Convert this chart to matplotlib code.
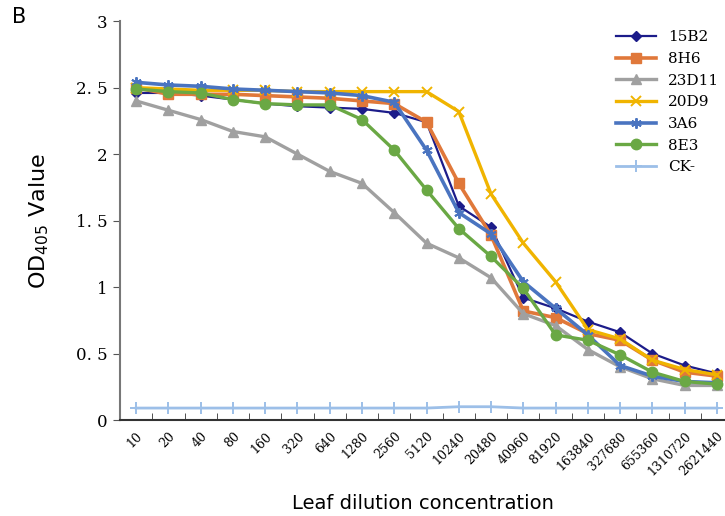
import numpy as np
from matplotlib import pyplot as plt

# dilution categories
dilutions = ["10", "20", "40", "80", "160", "320", "640", "1280", "2560", "5120",
             "10240", "20480", "40960", "81920", "163840", "327680", "655360",
             "1310720", "2621440"]

v_15B2 = [2.46, 2.46, 2.44, 2.41, 2.38, 2.36, 2.35, 2.34, 2.31, 2.24,
          1.61, 1.45, 0.92, 0.84, 0.74, 0.66, 0.50, 0.41, 0.35]
v_8H6 = [2.50, 2.45, 2.45, 2.45, 2.44, 2.43, 2.42, 2.40, 2.38, 2.24,
         1.78, 1.39, 0.82, 0.77, 0.65, 0.60, 0.45, 0.36, 0.33]
v_23D11 = [2.40, 2.33, 2.26, 2.17, 2.13, 2.00, 1.87, 1.78, 1.56, 1.33,
           1.22, 1.07, 0.80, 0.71, 0.53, 0.40, 0.31, 0.26, 0.26]
v_20D9 = [2.50, 2.49, 2.48, 2.48, 2.48, 2.47, 2.47, 2.47, 2.47, 2.47,
          2.32, 1.70, 1.33, 1.04, 0.68, 0.61, 0.45, 0.38, 0.34]
v_3A6 = [2.54, 2.52, 2.51, 2.49, 2.48, 2.47, 2.46, 2.44, 2.39, 2.03,
         1.56, 1.40, 1.04, 0.84, 0.64, 0.41, 0.33, 0.29, 0.28]
v_8E3 = [2.49, 2.47, 2.46, 2.41, 2.38, 2.37, 2.37, 2.26, 2.03, 1.73,
         1.44, 1.23, 0.99, 0.64, 0.60, 0.49, 0.36, 0.29, 0.27]
v_CK = [0.09, 0.09, 0.09, 0.09, 0.09, 0.09, 0.09, 0.09, 0.09, 0.09,
        0.10, 0.10, 0.09, 0.09, 0.09, 0.09, 0.09, 0.09, 0.09]

ytick_vals = [0, 0.5, 1, 1.5, 2, 2.5, 3]
ytick_labels = ["0", "0. 5", "1", "1. 5", "2", "2. 5", "3"]

series = [
    ("15B2", v_15B2, "#1c1c8a", "D", 1.6, 5),
    ("8H6", v_8H6, "#e0783a", "s", 2.6, 7),
    ("23D11", v_23D11, "#a0a0a0", "^", 2.4, 7.5),
    ("20D9", v_20D9, "#f0b400", "x", 2.4, 7.5),
    ("3A6", v_3A6, "#4a74c0", "x", 2.6, 7.5),
    ("8E3", v_8E3, "#6aa844", "o", 2.4, 7.5),
    ("CK-", v_CK, "#9cbfe8", "+", 2.0, 9),
]

fig = plt.figure(figsize=(7.25, 5.16), dpi=100)
ax = fig.add_axes([0.1655, 0.186, 1.0 - 0.1655, 0.959 - 0.186])

x = np.arange(len(dilutions))
for name, vals, col, mk, lw, ms in series:
    if name == "3A6":
        # star-like marker
        ax.plot(x, vals, color=col, lw=lw, marker=(6, 2, 0), ms=ms, mew=1.4, label=name)
    else:
        ax.plot(x, vals, color=col, lw=lw, marker=mk, ms=ms,
                mew=1.4 if mk in ("x", "+") else 1, label=name)

ax.set_xlim(-0.5, 18.25)
ax.set_ylim(0, 3)

ax.set_xticks(x)
ax.set_xticklabels(dilutions, rotation=45, ha="right", rotation_mode="anchor",
                   family="DejaVu Serif", fontsize=9)
ax.tick_params(axis="x", which="major", length=0, pad=7)
ax.set_xticks(np.arange(0.5, 18.5, 1), minor=True)
ax.tick_params(axis="x", which="minor", length=5, direction="in", color="#333333")

ax.set_yticks(ytick_vals)
ax.set_yticklabels(ytick_labels, family="DejaVu Serif", fontsize=12)
ax.tick_params(axis="y", length=5, color="#555555", pad=4)

for s in ["top", "right"]:
    ax.spines[s].set_visible(False)
ax.spines["left"].set_color("#777777")
ax.spines["left"].set_linewidth(1.5)
ax.spines["bottom"].set_color("#333333")
ax.spines["bottom"].set_linewidth(1.5)

ax.set_ylabel("OD$_{405}$ Value", fontsize=16, labelpad=18)
ax.set_xlabel("Leaf dilution concentration", fontsize=14, labelpad=11)

leg = ax.legend(loc="upper right", bbox_to_anchor=(1.005, 1.0), frameon=False,
                prop={"family": "DejaVu Serif", "size": 11}, handlelength=2.6,
                labelspacing=0.5, borderaxespad=0.2)

fig.text(0.016, 0.955, "B", fontsize=15)

fig.savefig("out.png", dpi=100)
